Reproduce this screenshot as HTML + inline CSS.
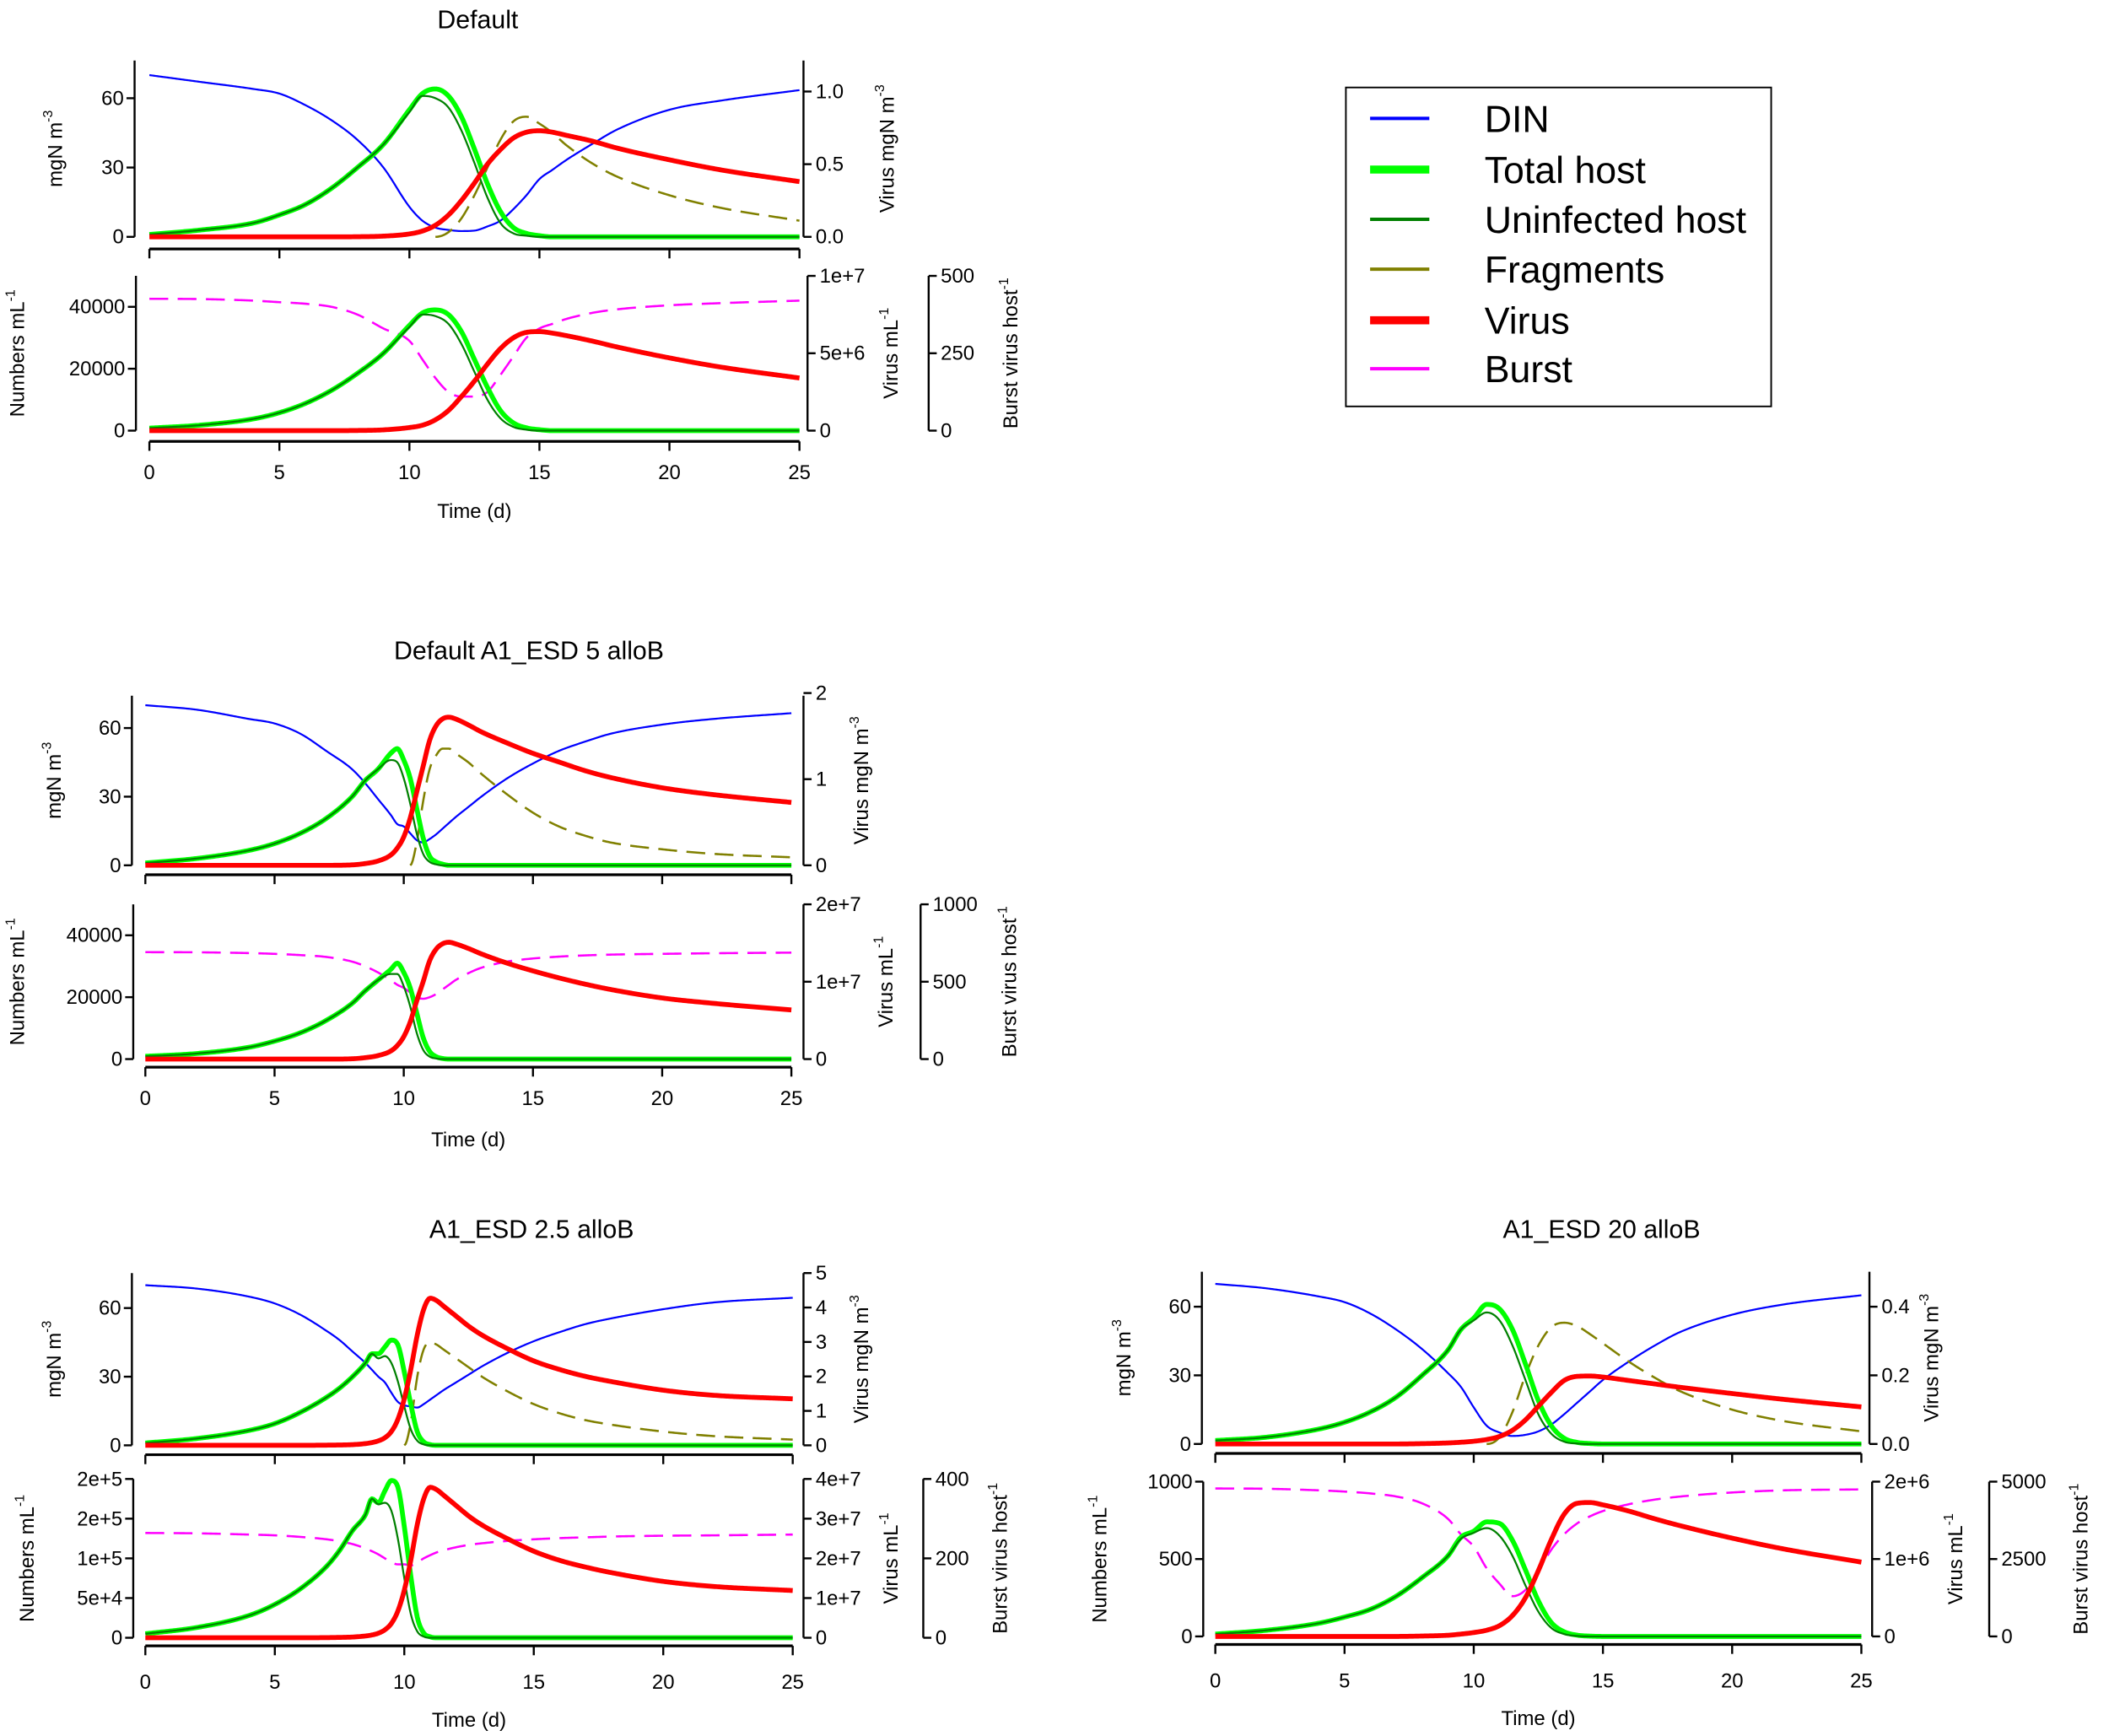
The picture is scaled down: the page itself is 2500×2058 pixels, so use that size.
<!DOCTYPE html>
<html><head><meta charset="utf-8"><style>
html,body{margin:0;padding:0;background:#fff}
svg{display:block}
text{font-family:"Liberation Sans",Arial,sans-serif;fill:#000}
</style></head><body>
<svg id="fig" xmlns="http://www.w3.org/2000/svg" width="2500" height="2058" viewBox="0 0 1567 1290" preserveAspectRatio="none">
<g>
<rect x="1000" y="65" width="316" height="237" fill="#fff" stroke="#000" stroke-width="1.2"/>
<g><line x1="1018" y1="88" x2="1062" y2="88" stroke="#0000ff" stroke-width="2.5"/><text x="1103" y="98" font-size="28">DIN</text></g>
<g><line x1="1018" y1="126" x2="1062" y2="126" stroke="#00ff00" stroke-width="6"/><text x="1103" y="136" font-size="28">Total host</text></g>
<g><line x1="1018" y1="163" x2="1062" y2="163" stroke="#008000" stroke-width="2.5"/><text x="1103" y="173" font-size="28">Uninfected host</text></g>
<g><line x1="1018" y1="200" x2="1062" y2="200" stroke="#808000" stroke-width="2.5"/><text x="1103" y="210" font-size="28">Fragments</text></g>
<g><line x1="1018" y1="238" x2="1062" y2="238" stroke="#ff0000" stroke-width="6"/><text x="1103" y="248" font-size="28">Virus</text></g>
<g><line x1="1018" y1="274" x2="1062" y2="274" stroke="#ff00ff" stroke-width="2.5"/><text x="1103" y="284" font-size="28">Burst</text></g>
</g>
</svg>
<script>
// ---- Panel A: Default ----
const tA = [0,2,4,5,6,7,8,9,10,10.5,11,11.5,12,12.5,13,13.5,14,14.5,15,15.5,16,17,18,20,22,25];
const dinA = [70,67,64,62,57,50.5,42,30,13,7,4,3,2.5,2.7,4.5,7,12,18,25,29,33,40,46.5,55,59,63.5];
const hostA = [1,3,6,9.5,14,21,30,40,55,62,64,61,52,38,23,11,4,1.5,0.5,0,0,0,0,0,0,0];
const uninfA = [1,3,6,9.5,14,21,30,40,54,61,60,56,46,32,17,6,1.5,0.5,0,0,0,0,0,0,0,0];
const fragA = [0,0,0,0,0,0,0,0,0,0,0,2,8,18,30,42,50,52,49,45,40,32,26,18,12.5,7];
const virA = [0,0,0,0,0,0,0.001,0.005,0.02,0.04,0.08,0.15,0.25,0.37,0.5,0.6,0.68,0.72,0.73,0.72,0.7,0.66,0.61,0.53,0.46,0.38];
const nHostA = [800,1800,3800,5800,8800,13000,18500,25000,34000,38000,39000,37500,32000,23000,14000,6500,2500,900,300,0,0,0,0,0,0,0];
const nUninfA = [800,1800,3800,5800,8800,13000,18500,25000,33500,37500,37000,34500,28000,19000,10000,4000,1200,300,0,0,0,0,0,0,0,0];
const nVirA = [0,0,0,0,0,0,0.001e7,0.005e7,0.02e7,0.035e7,0.07e7,0.13e7,0.22e7,0.32e7,0.43e7,0.53e7,0.6e7,0.635e7,0.64e7,0.63e7,0.615e7,0.58e7,0.54e7,0.47e7,0.41e7,0.34e7];
const burstA = [426,425,420,415,410,400,375,330,290,230,170,125,110,110,125,180,240,300,330,345,360,380,392,405,412,420];

// ---- Panel B: Default A1_ESD 5 alloB ----
const tB = [0,2,4,5,6,7,8,8.5,9,9.5,9.75,10,10.25,10.5,10.75,11,11.25,11.5,11.75,12,12.5,13,14,15,16,17,18,20,22,25];
const dinB = [70,68,64,62,57.5,50,42,36,29,22,18,17,14,11,10,11.5,13.5,16,18.5,21,25.5,30,38,44.5,50,54,57.5,61.5,64,66.5];
const hostB = [1,3,6.5,9.5,14,20.5,30,37,42,49,51,46,38,25,12,4,1.5,0.5,0,0,0,0,0,0,0,0,0,0,0,0];
const uninfB = [1,3,6.5,9.5,14,20.5,30,37,42,46,45,38,27,14,5,1.5,0.4,0,0,0,0,0,0,0,0,0,0,0,0,0];
const fragB = [0,0,0,0,0,0,0,0,0,0,0,0,0,10,28,42,48,51,51,49,45,40,31,23,17,13,10,7,5,3.5];
const virB = [0,0,0,0,0,0,0.005,0.02,0.05,0.12,0.2,0.33,0.55,0.85,1.15,1.45,1.62,1.7,1.72,1.7,1.63,1.55,1.42,1.3,1.2,1.1,1.02,0.9,0.82,0.73];
const nHostB = [900,1800,3800,5800,8500,12500,18000,22000,25500,29000,31000,28000,23000,15000,7000,2500,800,200,0,0,0,0,0,0,0,0,0,0,0,0];
const nUninfB = [900,1800,3800,5800,8500,12500,18000,22000,25500,27500,27500,23500,17000,8500,3000,800,200,0,0,0,0,0,0,0,0,0,0,0,0,0];
const nVirB = [0,0,0,0,0,0,0.004e7,0.018e7,0.045e7,0.105e7,0.175e7,0.29e7,0.48e7,0.75e7,1.0e7,1.27e7,1.42e7,1.49e7,1.51e7,1.49e7,1.43e7,1.36e7,1.24e7,1.14e7,1.05e7,0.97e7,0.9e7,0.79e7,0.72e7,0.635e7];
const burstB = [691,690,685,680,672,660,630,600,560,510,480,460,430,400,390,400,420,450,480,510,555,590,630,650,662,670,675,680,684,688];

// ---- Panel C: A1_ESD 2.5 alloB ----
const tC = [0,2,4,5,6,7,7.5,8,8.5,8.75,9,9.25,9.5,9.75,10,10.25,10.5,10.75,11,11.25,11.5,12,12.5,13,14,15,16,17,18,20,22,25];
const dinC = [70,68.5,65,62,57,50,46,41,36,33,30,27.5,23,19,17.5,17,16.5,18,20,22,24,27.5,31,34.5,40.5,45.5,49.5,53,55.5,59.5,62.5,64.5];
const hostC = [1,3,6.5,9.5,14.5,21,25,30,36,40,40,43,46,44,32,18,6,1.5,0.3,0,0,0,0,0,0,0,0,0,0,0,0,0];
const uninfC = [1,3,6.5,9.5,14.5,21,25,30,36,40,38,39,36,28,17,7,2,0.4,0,0,0,0,0,0,0,0,0,0,0,0,0,0];
const fragC = [0,0,0,0,0,0,0,0,0,0,0,0,0,0,0,10,30,42,45,44,42,38,34,30,23.5,18,14,11,9,6,4,2.5];
const virC = [0,0,0,0,0,0.005,0.01,0.02,0.05,0.08,0.13,0.22,0.4,0.75,1.35,2.2,3.2,3.95,4.27,4.2,4.05,3.75,3.45,3.2,2.8,2.45,2.2,2.0,1.85,1.6,1.45,1.35];
const nHostC = [5000,13000,28000,42000,62000,90000,110000,135000,155000,175000,170000,185000,198000,190000,140000,78000,26000,6000,1200,0,0,0,0,0,0,0,0,0,0,0,0,0];
const nUninfC = [5000,13000,28000,42000,62000,90000,110000,135000,155000,175000,168000,170000,160000,125000,75000,30000,8000,1500,0,0,0,0,0,0,0,0,0,0,0,0,0,0];
const nVirC = [0,0,0,0,0,0.004e7,0.009e7,0.018e7,0.045e7,0.07e7,0.115e7,0.2e7,0.36e7,0.67e7,1.2e7,1.95e7,2.85e7,3.5e7,3.79e7,3.73e7,3.6e7,3.33e7,3.06e7,2.84e7,2.49e7,2.18e7,1.95e7,1.78e7,1.64e7,1.42e7,1.29e7,1.19e7];
const burstC = [264,263,260,258,254,248,243,236,225,218,210,200,190,185,185,182,190,200,208,215,220,228,234,238,244,248,251,253,255,257,258,260];

// ---- Panel D: A1_ESD 20 alloB ----
const tD = [0,2,4,5,6,7,8,9,9.5,10,10.5,11,11.5,12,12.5,13,13.5,14,14.5,15,16,17,18,20,22,25];
const dinD = [70,68,64.5,62,57,50,41.5,31,25,16,8,5,3.5,4,5.5,8.5,13,18,23,28,36,43,49,56.5,61,65];
const hostD = [1.5,3,6.5,9.5,14,20.5,30,41,50,55,61,59,50,35,19,8,2.5,0.7,0.2,0,0,0,0,0,0,0];
const uninfD = [1.5,3,6.5,9.5,14,20.5,30,41,50,54,57.5,54,43,28,13,4.5,1,0.2,0,0,0,0,0,0,0,0];
const fragD = [0,0,0,0,0,0,0,0,0,0,0,3,14,30,43,51,53,51.5,48,44,36,29,23,15,10,5.5];
const virD = [0,0,0,0,0,0,0.001,0.003,0.005,0.008,0.013,0.022,0.04,0.07,0.11,0.15,0.185,0.197,0.198,0.195,0.185,0.175,0.165,0.147,0.13,0.108];
const nHostD = [15,40,85,125,175,260,380,520,640,680,740,730,620,430,230,90,30,8,2,0,0,0,0,0,0,0];
const nUninfD = [15,40,85,125,175,260,380,520,630,670,700,650,520,330,160,55,15,3,0,0,0,0,0,0,0,0];
const nVirD = [0,0,0,0,0,0,0.005e6,0.015e6,0.03e6,0.05e6,0.08e6,0.14e6,0.27e6,0.5e6,0.85e6,1.25e6,1.58e6,1.72e6,1.73e6,1.7e6,1.62e6,1.52e6,1.43e6,1.27e6,1.13e6,0.96e6];
const burstD = [4780,4770,4720,4680,4620,4520,4300,3800,3300,2900,2200,1700,1300,1500,2100,2800,3300,3650,3880,4050,4270,4420,4520,4650,4720,4750];

// tick values / labels
const xTicks = [0,5,10,15,20,25];
const leftTopTicks = [0,30,60];
const rtA = [0,0.5,1.0], rtLabA = ["0.0","0.5","1.0"];
const rtB = [0,1,2], rtLabB = ["0","1","2"];
const rtC = [0,1,2,3,4,5], rtLabC = ["0","1","2","3","4","5"];
const rtD = [0,0.2,0.4], rtLabD = ["0.0","0.2","0.4"];
const nTA = [0,20000,40000], nTLabA = ["0","20000","40000"];
const nTB = [0,20000,40000], nTLabB = ["0","20000","40000"];
const nTC = [0,5e4,1e5,1.5e5,2e5], nTLabC = ["0","5e+4","1e+5","2e+5","2e+5"];
const nTD = [0,500,1000], nTLabD = ["0","500","1000"];
const vTA = [0,5e6,1e7], vTLabA = ["0","5e+6","1e+7"];
const vTB = [0,1e7,2e7], vTLabB = ["0","1e+7","2e+7"];
const vTC = [0,1e7,2e7,3e7,4e7], vTLabC = ["0","1e+7","2e+7","3e+7","4e+7"];
const vTD = [0,1e6,2e6], vTLabD = ["0","1e+6","2e+6"];
const bTA = [0,250,500], bTB = [0,500,1000], bTC = [0,200,400], bTD = [0,2500,5000];

const NS = "http://www.w3.org/2000/svg";
const svg = document.getElementById('fig');
function mk(tag, attrs, parent){ const e=document.createElementNS(NS,tag); for(const k in attrs) e.setAttribute(k,attrs[k]); (parent||svg).appendChild(e); return e; }

function interp(xs, ys){ // monotone cubic (Fritsch-Carlson)
  const n=xs.length, d=[], m=new Array(n);
  for(let i=0;i<n-1;i++) d.push((ys[i+1]-ys[i])/(xs[i+1]-xs[i]));
  m[0]=d[0]; m[n-1]=d[n-2];
  for(let i=1;i<n-1;i++){ m[i]= (d[i-1]*d[i]<=0)?0:(d[i-1]+d[i])/2; }
  for(let i=0;i<n-1;i++){ if(d[i]===0){m[i]=0;m[i+1]=0;continue;} const a=m[i]/d[i], b=m[i+1]/d[i], s=a*a+b*b; if(s>9){const t=3/Math.sqrt(s); m[i]=t*a*d[i]; m[i+1]=t*b*d[i];} }
  return function(x){ let i=0; while(i<n-2 && x>xs[i+1]) i++; const h=xs[i+1]-xs[i], t=(x-xs[i])/h, t2=t*t, t3=t2*t;
    return (2*t3-3*t2+1)*ys[i]+(t3-2*t2+t)*h*m[i]+(-2*t3+3*t2)*ys[i+1]+(t3-t2)*h*m[i+1]; };
}
function series(g, ts, vals, sx, sy, color, w, dash, name, trimLead){
  const f=interp(ts, vals); let d='';
  let start=ts[0];
  if(trimLead){ let k=0; while(k<vals.length-1 && vals[k+1]===0) k++; start=ts[k]; }
  for(let x=start; x<=ts[ts.length-1]+1e-9; x+=0.05){ d+=(d?'L':'M')+sx(x).toFixed(2)+','+sy(f(x)).toFixed(2); }
  const p=mk('path',{d:d,fill:'none',stroke:color,'stroke-width':w,'stroke-linejoin':'round'},g);
  if(dash) p.setAttribute('stroke-dasharray',dash);
  
  
}
function vaxis(g, x, yTop, yBot, ticks, labels, sy, side, name){
  const a=mk('g',{},g);
  
  
  mk('line',{x1:x,y1:yTop,x2:x,y2:yBot,stroke:'#000','stroke-width':1.5},a);
  ticks.forEach((v,i)=>{ const y=sy(v); const dx= side==='left'?-6:6;
    mk('line',{x1:x,y1:y,x2:x+dx,y2:y,stroke:'#000','stroke-width':1.5},a);
    const t=mk('text',{x: side==='left'?x-8:x+9, y:y+5,'font-size':15,'text-anchor':side==='left'?'end':'start'},a); t.textContent=labels[i]; });
}
function haxis(g, y, sx, withLabels, labY, name){
  const a=mk('g',{},g);
  
  
  mk('line',{x1:sx(0),y1:y,x2:sx(25),y2:y,stroke:'#000','stroke-width':2},a);
  xTicks.forEach(v=>{ mk('line',{x1:sx(v),y1:y,x2:sx(v),y2:y+7,stroke:'#000','stroke-width':1.5},a);
    if(withLabels){ const t=mk('text',{x:sx(v),y:labY,'font-size':15,'text-anchor':'middle'},a); t.textContent=String(v);} });
}
function rlabel(g, x, y, main, sup, name){
  const t=mk('text',{x:0,y:0,'font-size':15,'text-anchor':'middle',transform:`translate(${x},${y}) rotate(-90)`},g);
  
  
  t.appendChild(document.createTextNode(main));
  if(sup){ const s=mk('tspan',{dy:-7,'font-size':10},t); s.textContent=sup; }
}

function panel(P){
  const g=mk('g',{});
  
  
  const sx=v=>P.xL+(P.xR-P.xL)*v/25;
  const title=mk('text',{x:P.titleX,y:P.titleY+7,'font-size':19,'text-anchor':'middle'},g); title.textContent=P.title;
  
  
  const syL=v=>P.topY0-v*P.kL, syR=v=>P.topY0-v*P.kR;
  vaxis(g,P.axL,P.topTop,P.topY0,leftTopTicks,["0","30","60"],syL,'left','left-axis-mgn');
  vaxis(g,P.axR,P.topTop,P.topY0,P.rt,P.rtLab,syR,'right','right-axis-virus-mgn');
  haxis(g,P.topXLine,sx,false,0,'top-x-axis');
  series(g,P.t,P.din,sx,syL,'#0000ff',1.4,null,'din-line');
  series(g,P.t,P.frag,sx,syL,'#808000',1.6,'14,7','fragments-line',true);
  series(g,P.t,P.host,sx,syL,'#00ff00',3.6,null,'total-host-line');
  series(g,P.t,P.uninf,sx,syL,'#008000',1.4,null,'uninfected-host-line');
  series(g,P.t,P.vir,sx,syR,'#ff0000',3.6,null,'virus-line');
  const syN=v=>P.botY0-v*P.kN, syV=v=>P.botY0-v*P.kV, syB=v=>P.botY0-v*P.kB;
  vaxis(g,P.axL+1,P.botTop,P.botY0,P.nT,P.nTLab,syN,'left','left-axis-numbers');
  vaxis(g,P.axR2,P.botTop,P.botY0,P.vT,P.vTLab,syV,'right','right-axis-virus-numbers');
  vaxis(g,P.axB,P.botTop,P.botY0,P.bT,P.bT.map(String),syB,'right','right-axis-burst');
  haxis(g,P.botXLine,sx,true,P.tickLabY+5,'x-axis');
  series(g,P.t,P.burst,sx,syB,'#ff00ff',1.6,'14,7','burst-line');
  series(g,P.t,P.nHost,sx,syN,'#00ff00',3.6,null,'total-host-numbers-line');
  series(g,P.t,P.nUninf,sx,syN,'#008000',1.4,null,'uninfected-host-numbers-line');
  series(g,P.t,P.nVir,sx,syV,'#ff0000',3.6,null,'virus-numbers-line');
  const xt=mk('text',{x:(P.xL+P.xR)/2,y:P.timeY+5,'font-size':15,'text-anchor':'middle'},g); xt.textContent='Time (d)';
  
  
  rlabel(g,P.labMgn,(P.topY0+P.topTop)/2,'mgN m','-3','y-axis-title-mgn');
  rlabel(g,P.labNum,(P.botY0+P.botTop)/2,'Numbers mL','-1','y-axis-title-numbers');
  rlabel(g,P.labVmgn,(P.topY0+P.topTop)/2,'Virus mgN m','-3','y-axis-title-virus-mgn');
  rlabel(g,P.labVml,(P.botY0+P.botTop)/2,'Virus mL','-1','y-axis-title-virus-ml');
  rlabel(g,P.labBurst,(P.botY0+P.botTop)/2,'Burst virus host','-1','y-axis-title-burst');
}

panel({name:'panel-default',title:'Default',titleX:355,titleY:14,xL:111,xR:594,topY0:176,topTop:45,kL:1.717,kR:108,axL:100,axR:597,axR2:600,axB:690,
  topXLine:185,botTop:205,botY0:320,kN:92/40000,kV:115/1e7,kB:115/500,botXLine:328,tickLabY:351,timeY:380,
  rt:rtA,rtLab:rtLabA,nT:nTA,nTLab:nTLabA,vT:vTA,vTLab:vTLabA,bT:bTA,
  labMgn:46,labNum:18,labVmgn:664,labVml:667,labBurst:756,
  t:tA,din:dinA,host:hostA,uninf:uninfA,frag:fragA,vir:virA,nHost:nHostA,nUninf:nUninfA,nVir:nVirA,burst:burstA});
panel({name:'panel-a1-esd-5',title:'Default A1_ESD 5 alloB',titleX:393,titleY:483,xL:108,xR:588,topY0:643,topTop:517,kL:1.7,kR:64,axL:98,axR:597,axR2:597,axB:684,
  topXLine:650,botTop:672,botY0:787,kN:92/40000,kV:115/2e7,kB:115/1000,botXLine:793,tickLabY:816,timeY:847,
  rt:rtB,rtLab:rtLabB,nT:nTB,nTLab:nTLabB,vT:vTB,vTLab:vTLabB,bT:bTB,
  labMgn:45,labNum:18,labVmgn:645,labVml:663,labBurst:755,
  t:tB,din:dinB,host:hostB,uninf:uninfB,frag:fragB,vir:virB,nHost:nHostB,nUninf:nUninfB,nVir:nVirB,burst:burstB});
panel({name:'panel-a1-esd-2-5',title:'A1_ESD 2.5 alloB',titleX:395,titleY:913,xL:108,xR:589,topY0:1074,topTop:946,kL:1.7,kR:25.6,axL:98,axR:597,axR2:597,axB:686,
  topXLine:1081,botTop:1099,botY0:1217,kN:118/2e5,kV:118/4e7,kB:118/400,botXLine:1223,tickLabY:1250,timeY:1278,
  rt:rtC,rtLab:rtLabC,nT:nTC,nTLab:nTLabC,vT:vTC,vTLab:vTLabC,bT:bTC,
  labMgn:45,labNum:25,labVmgn:645,labVml:667,labBurst:748,
  t:tC,din:dinC,host:hostC,uninf:uninfC,frag:fragC,vir:virC,nHost:nHostC,nUninf:nUninfC,nVir:nVirC,burst:burstC});
panel({name:'panel-a1-esd-20',title:'A1_ESD 20 alloB',titleX:1190,titleY:913,xL:903,xR:1383,topY0:1073,topTop:945,kL:1.7,kR:255,axL:893,axR:1389,axR2:1391,axB:1478,
  topXLine:1080,botTop:1101,botY0:1216,kN:115/1000,kV:115/2e6,kB:115/5000,botXLine:1222,tickLabY:1249,timeY:1277,
  rt:rtD,rtLab:rtLabD,nT:nTD,nTLab:nTLabD,vT:vTD,vTLab:vTLabD,bT:bTD,
  labMgn:840,labNum:822,labVmgn:1440,labVml:1458,labBurst:1551,
  t:tD,din:dinD,host:hostD,uninf:uninfD,frag:fragD,vir:virD,nHost:nHostD,nUninf:nUninfD,nVir:nVirD,burst:burstD});
</script>
</body></html>
